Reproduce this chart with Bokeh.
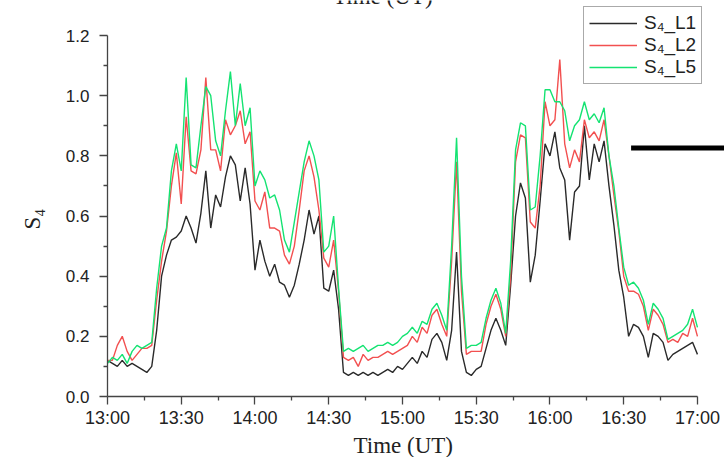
from bokeh.plotting import figure
from bokeh.models import Range1d, FixedTicker, Legend, LegendItem, Label, NumeralTickFormatter, Title
from bokeh.embed import file_html
from bokeh.resources import INLINE

# time in minutes after 13:00 UT
minutes = list(range(0, 242, 2))

s4_l1 = [0.12, 0.11, 0.10, 0.12, 0.10, 0.11, 0.10, 0.09, 0.08, 0.10,
         0.22, 0.40, 0.47, 0.52, 0.53, 0.55, 0.60, 0.56, 0.51, 0.61,
         0.75, 0.56, 0.67, 0.63, 0.73, 0.80, 0.77, 0.65, 0.76, 0.64,
         0.42, 0.52, 0.45, 0.40, 0.44, 0.38, 0.37, 0.33, 0.37, 0.44,
         0.52, 0.62, 0.54, 0.60, 0.36, 0.35, 0.42, 0.29, 0.08, 0.07,
         0.08, 0.07, 0.08, 0.07, 0.08, 0.07, 0.08, 0.09, 0.08, 0.10,
         0.09, 0.11, 0.13, 0.11, 0.15, 0.13, 0.19, 0.21, 0.18, 0.12,
         0.22, 0.48, 0.15, 0.08, 0.07, 0.09, 0.10, 0.16, 0.22, 0.26,
         0.22, 0.17, 0.37, 0.60, 0.71, 0.66, 0.38, 0.47, 0.65, 0.84,
         0.80, 0.88, 0.76, 0.72, 0.52, 0.68, 0.70, 0.90, 0.72, 0.84,
         0.78, 0.85, 0.70, 0.57, 0.42, 0.33, 0.20, 0.24, 0.23, 0.20,
         0.13, 0.21, 0.20, 0.18, 0.12, 0.14, 0.15, 0.16, 0.17, 0.18,
         0.14]

s4_l2 = [0.12, 0.12, 0.17, 0.20, 0.15, 0.12, 0.14, 0.16, 0.16, 0.17,
         0.32, 0.45, 0.55, 0.70, 0.81, 0.64, 0.93, 0.75, 0.74, 0.82,
         1.06, 0.82, 0.82, 0.75, 0.92, 0.87, 0.90, 0.95, 0.84, 0.88,
         0.65, 0.62, 0.68, 0.56, 0.56, 0.55, 0.47, 0.44, 0.50, 0.62,
         0.75, 0.80, 0.73, 0.62, 0.46, 0.43, 0.52, 0.35, 0.13, 0.12,
         0.13, 0.10, 0.14, 0.12, 0.13, 0.13, 0.14, 0.15, 0.14, 0.15,
         0.16, 0.17, 0.20, 0.18, 0.23, 0.21, 0.27, 0.29, 0.24, 0.20,
         0.45, 0.78, 0.35, 0.14, 0.15, 0.15, 0.15, 0.24, 0.30, 0.34,
         0.29, 0.20, 0.40, 0.78, 0.87, 0.86, 0.58, 0.56, 0.70, 0.98,
         0.90, 0.92, 1.12, 0.84, 0.76, 0.82, 0.78, 0.92, 0.86, 0.88,
         0.85, 0.92, 0.80, 0.67, 0.55, 0.40, 0.35, 0.35, 0.34, 0.30,
         0.22, 0.29, 0.27, 0.24, 0.18, 0.19, 0.18, 0.21, 0.20, 0.26,
         0.20]

s4_l5 = [0.11, 0.13, 0.12, 0.14, 0.11, 0.15, 0.17, 0.16, 0.17, 0.18,
         0.36, 0.50, 0.56, 0.75, 0.84, 0.75, 1.06, 0.77, 0.76, 0.90,
         1.03, 1.00, 0.85, 0.80, 0.95, 1.08, 0.90, 1.04, 0.90, 0.96,
         0.70, 0.75, 0.72, 0.66, 0.67, 0.62, 0.52, 0.48, 0.58, 0.68,
         0.78, 0.85, 0.80, 0.72, 0.48, 0.50, 0.60, 0.36, 0.15, 0.16,
         0.15, 0.16, 0.17, 0.15, 0.16, 0.17, 0.17, 0.18, 0.17, 0.18,
         0.20, 0.21, 0.23, 0.21, 0.25, 0.24, 0.29, 0.31, 0.27, 0.22,
         0.50, 0.86, 0.40, 0.16, 0.17, 0.17, 0.18, 0.26, 0.32, 0.36,
         0.31, 0.21, 0.45, 0.82, 0.91, 0.90, 0.62, 0.63, 0.80, 1.02,
         1.02, 0.98, 0.98, 0.95, 0.85, 0.90, 0.92, 0.98, 0.92, 0.94,
         0.91, 0.96, 0.80, 0.70, 0.56, 0.43, 0.37, 0.38, 0.36, 0.32,
         0.24, 0.31, 0.29, 0.26, 0.19, 0.20, 0.21, 0.22, 0.24, 0.29,
         0.23]

series_names = ["S\u2084_L1", "S\u2084_L2", "S\u2084_L5"]
series_colors = ["#2a2a2a", "#f25050", "#14e372"]

tick_minutes = [0, 30, 60, 90, 120, 150, 180, 210, 240]
tick_labels = ["13:00", "13:30", "14:00", "14:30", "15:00", "15:30", "16:00", "16:30", "17:00"]
y_ticks = [0.0, 0.2, 0.4, 0.6, 0.8, 1.0, 1.2]
y_minor = [0.1, 0.3, 0.5, 0.7, 0.9, 1.1]

x_title = "Time (UT)"
y_title = "S\u2084"

# black marker bar at the right edge (from the original multi-panel figure)
bar_x = [213, 251]
bar_y = [0.826, 0.826]

p = figure(width=724, height=457, output_backend="svg", toolbar_location=None,
           x_range=Range1d(0, 251), y_range=Range1d(0, 1.3165),
           min_border_left=107, min_border_right=0, min_border_top=0, min_border_bottom=61)
p.outline_line_color = None
p.xgrid.visible = False
p.ygrid.visible = False
p.background_fill_color = "white"
p.border_fill_color = "white"

renderers = []
for ys, c in zip([s4_l1, s4_l2, s4_l5], series_colors):
    r = p.line(minutes, ys, line_color=c, line_width=1.4)
    renderers.append(r)

p.line(bar_x, bar_y, line_color="black", line_width=5)

xa = p.xaxis[0]
xa.ticker = FixedTicker(ticks=tick_minutes, minor_ticks=[t + 15 for t in tick_minutes[:-1]])
xa.major_label_overrides = {t: l for t, l in zip(tick_minutes, tick_labels)}
xa.bounds = (tick_minutes[0], tick_minutes[-1])

ya = p.yaxis[0]
ya.ticker = FixedTicker(ticks=y_ticks, minor_ticks=y_minor)
ya.formatter = NumeralTickFormatter(format="0.0")
ya.bounds = (y_ticks[0], y_ticks[-1])

for ax in (xa, ya):
    ax.axis_line_color = "#444444"
    ax.axis_line_width = 1.3
    ax.major_tick_line_color = "#444444"
    ax.minor_tick_line_color = "#444444"
    ax.major_tick_line_width = 1.3
    ax.minor_tick_line_width = 1.3
    ax.major_tick_out = 8
    ax.major_tick_in = 0
    ax.minor_tick_out = 4
    ax.minor_tick_in = 0
    ax.major_label_text_font = "Liberation Sans"
    ax.major_label_text_color = "#222222"

xa.major_label_text_font_size = "18px"
xa.major_label_standoff = 3
ya.major_label_text_font_size = "17px"
ya.major_label_standoff = 10

# axis titles as side-panel titles, shifted onto the drawn axis extent
p.add_layout(Title(text=x_title, align="left", offset=246, standoff=0,
                   text_font="Liberation Serif", text_font_size="23px",
                   text_font_style="normal", text_color="#222222"), "below")
# an empty spacer title keeps the S4 title further out from the tick labels
p.add_layout(Title(text=" ", standoff=0, text_font_size="14px"), "left")
p.add_layout(Title(text=y_title, align="left", offset=167, standoff=0,
                   text_font="Liberation Serif", text_font_size="23px",
                   text_font_style="normal", text_color="#222222"), "left")

legend = Legend(items=[LegendItem(label=n, renderers=[r]) for n, r in zip(series_names, renderers)],
                location=(476, 312))
legend.border_line_color = "#555555"
legend.border_line_width = 1.5
legend.label_text_font = "Liberation Sans"
legend.label_text_font_size = "19px"
legend.label_text_color = "#222222"
legend.glyph_width = 48
legend.glyph_height = 20
legend.label_height = 20
legend.spacing = 0
legend.padding = 5
legend.label_standoff = 7
legend.margin = 0
p.add_layout(legend, "center")

# title of the panel above, cut off by the top edge as in the source image
p.add_layout(Label(x=112, y=1.33, text=x_title, text_align="center",
                   text_baseline="alphabetic", text_font="Liberation Serif",
                   text_font_size="23px", text_color="#222222"))

open("out.html", "w").write(file_html(p, INLINE))
